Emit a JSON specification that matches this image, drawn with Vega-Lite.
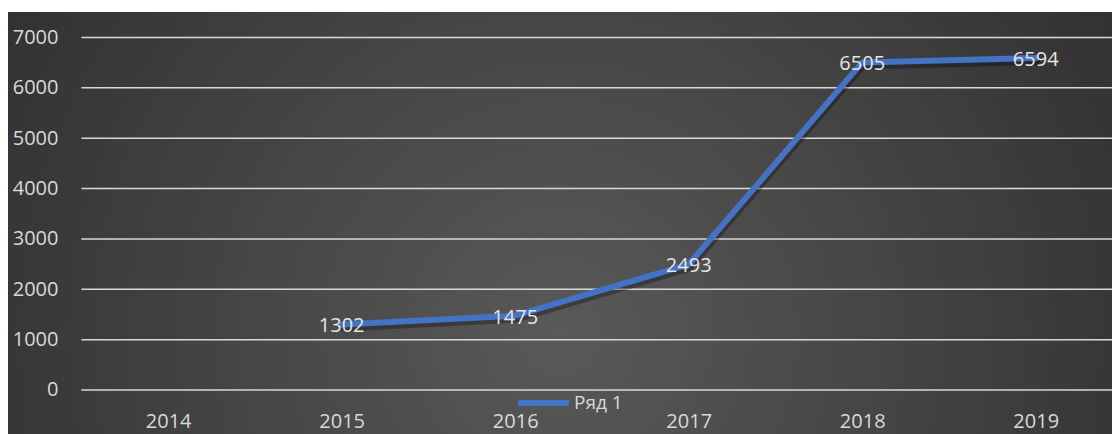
{
  "$schema": "https://vega.github.io/schema/vega-lite/v6.json",
  "width": 1104,
  "height": 422,
  "padding": {"left": 8, "top": 12, "right": 0, "bottom": 0},
  "autosize": {"type": "none"},
  "background": "#ffffff",
  "view": {
    "stroke": null,
    "fill": {
      "gradient": "radial",
      "x1": 0.5, "y1": 0.6, "r1": 0,
      "x2": 0.5, "y2": 0.6, "r2": 0.75,
      "stops": [
        {"offset": 0, "color": "#595959"},
        {"offset": 1, "color": "#262626"}
      ]
    }
  },
  "datasets": {
    "series": [
      {"year": 2015, "value": 1302},
      {"year": 2016, "value": 1475},
      {"year": 2017, "value": 2493},
      {"year": 2018, "value": 6505},
      {"year": 2019, "value": 6594}
    ],
    "grid": [
      {"value": 0}, {"value": 1000}, {"value": 2000}, {"value": 3000},
      {"value": 4000}, {"value": 5000}, {"value": 6000}, {"value": 7000}
    ]
  },
  "layer": [
    {
      "data": {"name": "grid"},
      "mark": {"type": "rule", "color": "#d9d9d9", "strokeWidth": 1.5, "clip": true},
      "encoding": {
        "y": {
          "field": "value", "type": "quantitative",
          "scale": {"domain": [-874, 7506], "nice": false, "zero": false},
          "axis": {
            "values": [0, 1000, 2000, 3000, 4000, 5000, 6000, 7000], "format": "d",
            "orient": "left", "offset": -50, "labelPadding": 0,
            "domain": false, "ticks": false, "grid": false, "title": null,
            "labelColor": "#d9d9d9", "labelFontSize": 20, "labelFont": "Open Sans"
          }
        },
        "x": {
          "datum": 2013.5, "type": "quantitative",
          "scale": {"domain": [2013.0767, 2019.4398], "nice": false, "zero": false},
          "axis": {
            "values": [2014, 2015, 2016, 2017, 2018, 2019], "format": "d",
            "orient": "bottom", "offset": -12.5, "labelPadding": 0, "labelBaseline": "middle",
            "domain": false, "ticks": false, "grid": false, "title": null,
            "labelColor": "#d9d9d9", "labelFontSize": 20, "labelFont": "Open Sans"
          }
        },
        "x2": {"datum": 2020}
      }
    },
    {
      "data": {"name": "series"},
      "mark": {"type": "line", "color": "#000000", "opacity": 0.3, "strokeWidth": 6, "yOffset": 4, "xOffset": 1, "strokeCap": "round", "strokeJoin": "round"},
      "encoding": {
        "x": {"field": "year", "type": "quantitative"},
        "y": {"field": "value", "type": "quantitative"}
      }
    },
    {
      "data": {"name": "series"},
      "mark": {"type": "line", "strokeWidth": 6, "strokeCap": "round", "strokeJoin": "round"},
      "encoding": {
        "x": {"field": "year", "type": "quantitative"},
        "y": {"field": "value", "type": "quantitative"},
        "color": {
          "datum": "Ряд 1", "type": "nominal",
          "scale": {"range": ["#4472C4"]},
          "legend": {
            "orient": "none", "legendX": 507, "legendY": 362.5, "title": null,
            "symbolType": "stroke", "symbolSize": 2600, "symbolStrokeWidth": 6,
            "labelColor": "#d9d9d9", "labelFontSize": 19, "labelFont": "Open Sans",
            "padding": 0, "labelOffset": 2
          }
        }
      }
    },
    {
      "data": {"name": "series"},
      "mark": {"type": "text", "fontSize": 20, "font": "Open Sans", "color": "#e6e6e6", "dy": 2},
      "encoding": {
        "x": {"field": "year", "type": "quantitative"},
        "y": {"field": "value", "type": "quantitative"},
        "text": {"field": "value", "type": "quantitative", "format": "d"}
      }
    }
  ]
}
